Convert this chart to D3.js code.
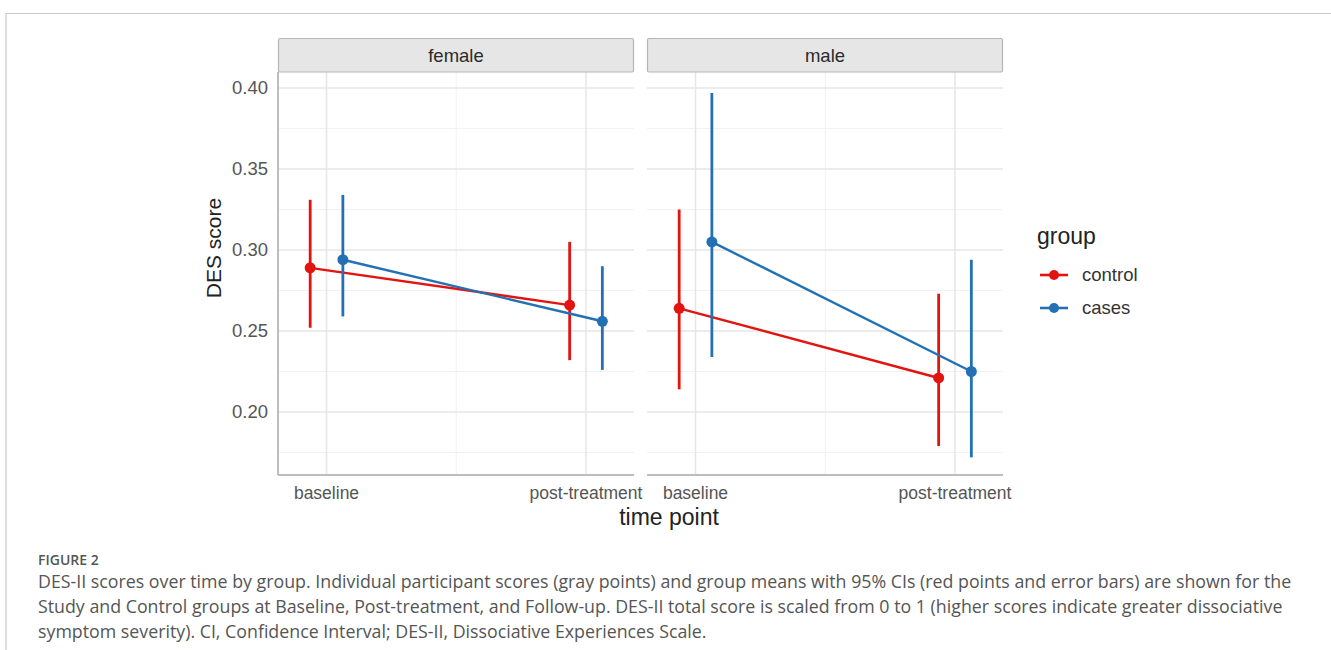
<!DOCTYPE html>
<html>
<head>
<meta charset="utf-8">
<script src="https://cdn.jsdelivr.net/npm/d3@7"></script>
<style>
  body { margin: 0; background: #fff; }
  svg { display: block; font-family: "Liberation Sans", Arial, sans-serif; }
  .caption { font-family: "Open Sans", sans-serif; fill: #555; }
</style>
</head>
<body>
<svg id="chart" width="1331" height="650"></svg>
<script>
// facets, time points and groups
const sexes = ["female", "male"]
const timePoints = ["baseline", "post-treatment"]
const groups = ["control", "cases"]
const yTicks = [0.20, 0.25, 0.30, 0.35, 0.40]

// group means and 95% CI, one entry per time point
const femaleControlMean = [0.289, 0.266]
const femaleControlLow = [0.252, 0.232]
const femaleControlHigh = [0.331, 0.305]
const femaleCasesMean = [0.294, 0.256]
const femaleCasesLow = [0.259, 0.226]
const femaleCasesHigh = [0.334, 0.290]
const maleControlMean = [0.264, 0.221]
const maleControlLow = [0.214, 0.179]
const maleControlHigh = [0.325, 0.273]
const maleCasesMean = [0.305, 0.225]
const maleCasesLow = [0.234, 0.172]
const maleCasesHigh = [0.397, 0.294]

const captionLines = [
  "DES-II scores over time by group. Individual participant scores (gray points) and group means with 95% CIs (red points and error bars) are shown for the",
  "Study and Control groups at Baseline, Post-treatment, and Follow-up. DES-II total score is scaled from 0 to 1 (higher scores indicate greater dissociative",
  "symptom severity). CI, Confidence Interval; DES-II, Dissociative Experiences Scale."
]

const series = {
  female: {
    control: { mean: femaleControlMean, lo: femaleControlLow, hi: femaleControlHigh },
    cases: { mean: femaleCasesMean, lo: femaleCasesLow, hi: femaleCasesHigh }
  },
  male: {
    control: { mean: maleControlMean, lo: maleControlLow, hi: maleControlHigh },
    cases: { mean: maleCasesMean, lo: maleCasesLow, hi: maleCasesHigh }
  }
}

const color = d3.scaleOrdinal().domain(groups).range(["#e3140f", "#2371b4"])

const svg = d3.select("#chart")

// card border like the journal page
svg.append("path").attr("d", "M6,650 V13.5 H1331").attr("fill", "none").attr("stroke", "#c8c8c8").attr("stroke-width", 1.2)

const panelTop = 72, panelBottom = 475, panelW = 356
const panelX = d3.scaleOrdinal().domain(sexes).range([278, 647])

let y = d3.scaleLinear().domain([0.1611, 0.4099]).range([panelBottom, panelTop])
// x is the time point index, groups dodged around it
let xInner = d3.scaleLinear().domain([-0.187, 1.185]).range([0, panelW])
let dodge = d3.scaleOrdinal().domain(groups).range([-0.063, 0.063])

const minorY = d3.range(0.175, 0.40, 0.05)

sexes.forEach((sex, si) => {
  const g = svg.append("g").attr("transform", `translate(${panelX(sex)},0)`)

  // gridlines
  g.selectAll(".minorY").data(minorY).enter().append("line")
    .attr("x1", 0).attr("x2", panelW).attr("y1", d => y(d)).attr("y2", d => y(d))
    .attr("stroke", "#f2f2f2").attr("stroke-width", 1)
  g.append("line").attr("x1", xInner(0.5)).attr("x2", xInner(0.5)).attr("y1", panelTop).attr("y2", panelBottom)
    .attr("stroke", "#f2f2f2").attr("stroke-width", 1)
  g.selectAll(".majorY").data(yTicks).enter().append("line")
    .attr("x1", 0).attr("x2", panelW).attr("y1", d => y(d)).attr("y2", d => y(d))
    .attr("stroke", "#e6e6e6").attr("stroke-width", 1.5)
  g.selectAll(".majorX").data(timePoints).enter().append("line")
    .attr("x1", (d, i) => xInner(i)).attr("x2", (d, i) => xInner(i)).attr("y1", panelTop).attr("y2", panelBottom)
    .attr("stroke", "#e6e6e6").attr("stroke-width", 1.5)

  // axis lines: bottom on both, left only on the first panel
  g.append("line").attr("x1", 0).attr("x2", panelW).attr("y1", panelBottom).attr("y2", panelBottom)
    .attr("stroke", "#bdbdbd").attr("stroke-width", 2)
  if (si === 0) {
    g.append("line").attr("x1", 0).attr("x2", 0).attr("y1", panelTop).attr("y2", panelBottom)
      .attr("stroke", "#bdbdbd").attr("stroke-width", 2)
  }

  // strip
  g.append("rect").attr("x", 0.5).attr("y", 38.5).attr("width", panelW - 1).attr("height", 33.5).attr("rx", 1.5)
    .attr("fill", "#e6e6e6").attr("stroke", "#b5b5b5").attr("stroke-width", 1.2)
  g.append("text").attr("x", panelW / 2).attr("y", 62).attr("text-anchor", "middle")
    .attr("font-size", 18.5).attr("fill", "#2b2b2b").text(sex)

  // x tick labels
  g.selectAll(".xlab").data(timePoints).enter().append("text")
    .attr("x", (d, i) => xInner(i)).attr("y", 499).attr("text-anchor", "middle")
    .attr("font-size", 17.5).attr("fill", "#555").text(d => d)

  groups.forEach(grp => {
    const s = series[sex][grp]
    const pts = s.mean.map((m, i) => ({ x: xInner(i + dodge(grp)), m: m, lo: s.lo[i], hi: s.hi[i] }))
    const line = d3.line().x(d => d.x).y(d => y(d.m))
    g.append("path").datum(pts).attr("d", line).attr("fill", "none")
      .attr("stroke", color(grp)).attr("stroke-width", 2.4)
    g.selectAll(".err-" + grp).data(pts).enter().append("line")
      .attr("x1", d => d.x).attr("x2", d => d.x).attr("y1", d => y(d.lo)).attr("y2", d => y(d.hi))
      .attr("stroke", color(grp)).attr("stroke-width", 2.8)
  })
  groups.forEach(grp => {
    const s = series[sex][grp]
    g.selectAll(".pt-" + grp).data(s.mean).enter().append("circle")
      .attr("cx", (d, i) => xInner(i + dodge(grp))).attr("cy", d => y(d)).attr("r", 5.5)
      .attr("fill", color(grp))
  })
})

// y axis labels
let yAxis = d3.axisLeft(y).tickValues(yTicks).tickFormat(d3.format(".2f")).tickSize(0).tickPadding(10)
const ya = svg.append("g").attr("transform", "translate(278,0)").call(yAxis)
ya.select(".domain").remove()
ya.selectAll("text").attr("font-size", 18.5).attr("fill", "#555").attr("font-family", "Liberation Sans, Arial, sans-serif")

// axis titles
svg.append("text").attr("transform", "translate(221,248) rotate(-90)").attr("text-anchor", "middle")
  .attr("font-size", 21).attr("fill", "#222").text("DES score")
svg.append("text").attr("x", 669).attr("y", 525).attr("text-anchor", "middle")
  .attr("font-size", 23).attr("fill", "#222").text("time point")

// legend
svg.append("text").attr("x", 1037).attr("y", 244).attr("font-size", 23).attr("fill", "#222").text("group")
const leg = svg.selectAll(".leg").data(groups).enter().append("g")
  .attr("transform", (d, i) => `translate(1040,${275 + i * 33})`)
leg.append("line").attr("x1", 0).attr("x2", 28).attr("stroke", d => color(d)).attr("stroke-width", 2.6)
leg.append("circle").attr("cx", 14).attr("r", 5).attr("fill", d => color(d))
leg.append("text").attr("x", 42).attr("y", 6).attr("font-size", 18.5).attr("fill", "#333").text(d => d)

// caption
svg.append("text").attr("class", "caption").attr("x", 38).attr("y", 565)
  .attr("font-size", 14).attr("font-weight", 600).attr("fill", "#555").text("FIGURE 2")
svg.selectAll(".capline").data(captionLines).enter().append("text").attr("class", "caption")
  .attr("x", 38).attr("y", (d, i) => 588 + i * 25).attr("font-size", 17.8).text(d => d)
</script>
</body>
</html>
